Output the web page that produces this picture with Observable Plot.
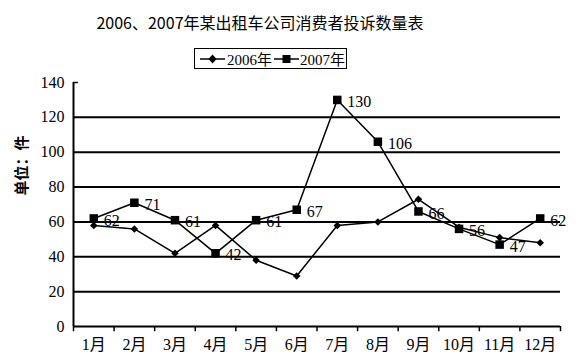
<!DOCTYPE html>
<html><head><meta charset="utf-8">
<script src="https://cdn.jsdelivr.net/npm/d3@7"></script>
<script src="https://cdn.jsdelivr.net/npm/@observablehq/plot@0.6"></script>
<style>
body{margin:0;background:#fff;width:584px;height:357px;overflow:hidden;position:relative;}
#title{position:absolute;top:11px;left:0;width:520px;text-align:center;font-family:"Noto Sans CJK SC",sans-serif;font-size:16px;line-height:22px;color:#000;}
#legend{position:absolute;left:194px;top:48px;width:151px;height:19px;border:1.5px solid #000;display:flex;align-items:center;font-family:"Liberation Serif","Noto Sans CJK SC",serif;font-size:15px;color:#000;white-space:nowrap;}
#legend svg{display:block;}
#chart{position:absolute;top:74px;left:0;}
#chart svg text{font-family:"Liberation Serif","Noto Sans CJK SC",serif !important;}
</style></head>
<body>
<div id="title">2006、2007年某出租车公司消费者投诉数量表</div>
<div id="legend"></div>
<div id="chart"></div>
<script>
const months = ["1月","2月","3月","4月","5月","6月","7月","8月","9月","10月","11月","12月"];
const series2006 = [58, 56, 42, 58, 38, 29, 58, 60, 73, 57, 51, 48];
const series2007 = [62, 71, 61, 42, 61, 67, 130, 106, 66, 56, 47, 62];
const seriesNames = ["2006年", "2007年"];
const yTicks = [0, 20, 40, 60, 80, 100, 120, 140];
const yTitle = "单位：件";

const data = months.map((m, i) => ({idx: i + 1, month: m, v06: series2006[i], v07: series2007[i]}));
const boundaries = months.map((m, i) => i + 0.5).concat([months.length + 0.5]);
const gridValues = yTicks.filter(v => v > 0 && v < d3.max(yTicks));

// legend
const legend = document.getElementById("legend");
seriesNames.forEach((name, k) => {
  const ns = "http://www.w3.org/2000/svg";
  const s = document.createElementNS(ns, "svg");
  s.setAttribute("width", k === 0 ? 28 : 27); s.setAttribute("height", 12);
  s.style.marginLeft = k === 0 ? "4px" : "1px";
  const l = document.createElementNS(ns, "line");
  l.setAttribute("x1", 1); l.setAttribute("x2", 26); l.setAttribute("y1", 6); l.setAttribute("y2", 6);
  l.setAttribute("stroke", "#000"); l.setAttribute("stroke-width", 1.5);
  s.appendChild(l);
  const p = document.createElementNS(ns, "path");
  p.setAttribute("transform", "translate(13.5,6)");
  p.setAttribute("d", k === 0 ? "M0,-4.5L4,0L0,4.5L-4,0Z" : "M-4,-4H4V4H-4Z");
  p.setAttribute("fill", "#000");
  s.appendChild(p);
  legend.appendChild(s);
  const t = document.createElement("span");
  t.textContent = name;
  legend.appendChild(t);
});

const serif = '"Liberation Serif","Noto Sans CJK SC",serif';
const chart = Plot.plot({
  width: 584,
  height: 283,
  marginLeft: 73,
  marginRight: 24,
  marginTop: 8,
  marginBottom: 31,
  style: {fontFamily: serif, fontSize: "16px", color: "#000", background: "#fff"},
  x: {type: "linear", domain: [0.5, months.length + 0.5], axis: null},
  y: {domain: [0, 140], axis: null},
  marks: [
    Plot.ruleY(gridValues, {stroke: "#000", strokeWidth: 2}),
    Plot.ruleY([0], {stroke: "#000", strokeWidth: 2}),
    Plot.ruleX([0.5], {y1: 0, y2: 140, stroke: "#000", strokeWidth: 2}),
    Plot.ruleY([140], {x1: 0.5, x2: 0.62, stroke: "#000", strokeWidth: 1.5}),
    Plot.ruleX(boundaries, {y1: 0, y2: -3, stroke: "#000", strokeWidth: 1.5}),
    // y tick labels
    Plot.text(yTicks, {y: d => d, frameAnchor: "left", textAnchor: "end", dx: -9, text: d => String(d), fontSize: 16, fontFamily: serif, fill: "#000"}),
    // x tick labels
    Plot.text(data, {x: "idx", frameAnchor: "bottom", lineAnchor: "top", dy: 12, text: "month", fontSize: 16, fontFamily: serif, fill: "#000"}),
    Plot.text([yTitle], {frameAnchor: "left", textAnchor: "middle", rotate: -90, dx: -51, dy: -39, fontSize: 15, fontWeight: "bold", fill: "#000"}),
    Plot.line(data, {x: "idx", y: "v06", stroke: "#000", strokeWidth: 1.5}),
    Plot.line(data, {x: "idx", y: "v07", stroke: "#000", strokeWidth: 1.5}),
    Plot.dot(data, {x: "idx", y: "v06", symbol: "diamond2", r: 3.4, fill: "#000", stroke: "none"}),
    Plot.dot(data, {x: "idx", y: "v07", symbol: "square", r: 4.8, fill: "#000", stroke: "none"}),
    Plot.text(data, {x: "idx", y: "v07", text: d => String(d.v07), textAnchor: "start", dx: 10, dy: 2, fontSize: 16, fontFamily: serif, fill: "#000"})
  ]
});
document.getElementById("chart").appendChild(chart);
</script>
</body></html>
